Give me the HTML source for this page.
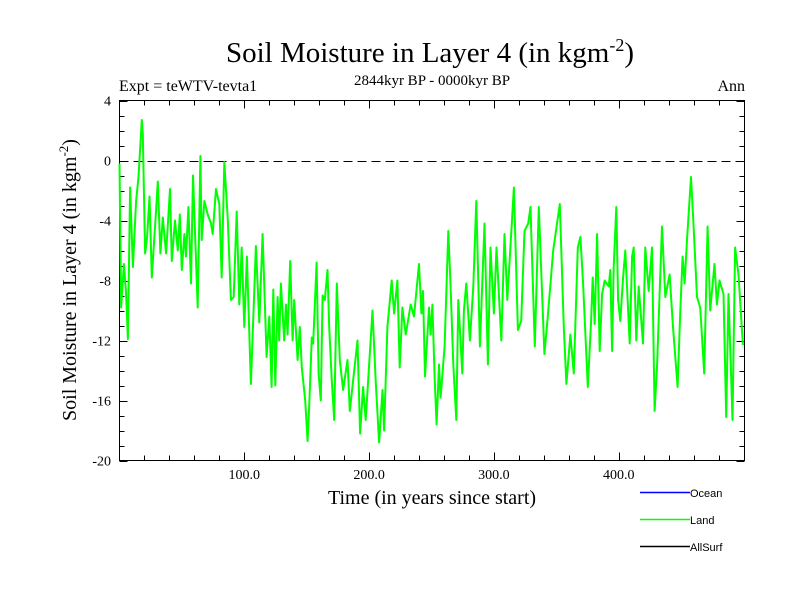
<!DOCTYPE html>
<html><head><meta charset="utf-8"><style>
body{margin:0;background:#fff}
svg{display:block;font-family:"Liberation Serif",serif}
</style></head><body>
<svg id="chart" width="800" height="600" viewBox="0 0 800 600">
<rect width="800" height="600" fill="#fff"/>
<text x="430" y="62" font-size="29" text-anchor="middle">Soil Moisture in Layer 4 (in kgm<tspan dy="-11" font-size="18">-2</tspan><tspan dy="11">)</tspan></text>
<text x="119" y="91" font-size="16">Expt = teWTV-tevta1</text>
<text x="432" y="85" font-size="15" text-anchor="middle">2844kyr BP - 0000kyr BP</text>
<text x="745" y="91" font-size="16" text-anchor="end">Ann</text>
<text transform="translate(76,280) rotate(-90)" font-size="20" text-anchor="middle">Soil Moisture in Layer 4 (in kgm<tspan dy="-8" font-size="13">-2</tspan><tspan dy="8">)</tspan></text>
<text x="432" y="504" font-size="20" text-anchor="middle">Time (in years since start)</text>
<g id="axes"></g>
<g id="series"></g>
<g font-family="Liberation Sans, sans-serif" font-size="11">
<line x1="640" y1="492.5" x2="690" y2="492.5" stroke="#0000ff" stroke-width="1.5"/>
<text x="690" y="497">Ocean</text>
<line x1="640" y1="519.5" x2="690" y2="519.5" stroke="#00ff00" stroke-width="1.5"/>
<text x="690" y="524">Land</text>
<line x1="640" y1="546.5" x2="690" y2="546.5" stroke="#000" stroke-width="1.5"/>
<text x="690" y="551">AllSurf</text>
</g>
</svg>
<script>
const years=[0,1.3,3.5,5.3,6.7,8.5,10.7,13.3,15.2,17.9,18.7,20.5,22.1,24,25.9,29.3,30.7,32.8,34.7,37.3,40.5,41.9,44.5,46.7,48.3,49.9,52,53.3,55.2,57.3,58.9,62.7,64.8,65.9,68,70.7,73.3,74.7,77.3,80,81.9,84,86.7,89.3,91.5,93.9,96,97.9,100,102.1,105.3,109.3,112,114.7,117.9,120,121.9,123.2,
124.8,126.7,128,129.3,132,133.3,134.7,136.8,138.7,140,142.7,144.5,146.1,148.8,150.7,152,154.1,155.2,157.9,159.5,161.3,162.7,164.5,166.7,168,170.1,172,174.1,176.5,179.2,182.7,184.5,190.7,192.8,195.2,197.3,202.7,205.3,208,210.7,212,214.7,218.1,220,222.7,224.5,226.7,229.3,233.3,236,240,241.9,243.2,244.8,
248,249.3,250.7,252.5,254.1,256,257.3,260.5,263.5,265.3,267.5,269.9,271.5,274.7,276,277.9,280.8,283.5,285.9,288.8,292.5,295.2,297.3,300,302.1,305.9,308.5,310.7,316,319.2,321.9,324.5,327.5,329.3,332.8,336,340.5,343.2,347.5,352.8,356,358.1,361.3,364,367.2,369.3,371.5,
375.2,377.9,379.2,380.8,382.7,384.8,386.7,388.8,392,393.3,394.7,396,398.1,399.5,401.3,403.5,405.3,408.8,410.7,412,414.1,416,419.5,421.3,424,426.7,428.8,430.7,434.7,437.3,440.8,443.5,447.2,449.3,451.2,452.8,454.7,457.9,460,462.7,465.3,468.5,471.2,473.3,476.8,478.7,480.8,484,486.1,488,491.2,493.3,496,499.5];
const landValues=[-0.2,-9.8,-6.9,-8.9,-11.9,-1.8,-7.1,-2.7,-1.1,2.7,1.8,-6.2,-5.1,-2.4,-7.8,-3.3,-1.4,-6.2,-3.8,-6.2,-1.9,-6.7,-4,-6,-3.6,-7.3,-4.9,-6.4,-3.1,-8.2,-1,-9.8,0.3,-5.3,-2.7,-3.6,-4.2,-4.9,-1.9,-2.9,-7.8,-0.1,-3.8,-9.3,-9.1,-3.4,-9.6,-5.8,-11.1,-6.4,-14.9,-5.7,-10.8,-4.9,-13.1,-10.4,-15.1,-8.6,
-15,-9.1,-12,-8.2,-12,-9.6,-11.6,-6.7,-12,-9.3,-13.3,-11.1,-13.8,-16,-18.7,-16.4,-11.8,-12.2,-6.8,-14.2,-16,-9,-9.3,-7.3,-11.1,-14.7,-17.3,-8.2,-13.3,-15.3,-13.3,-16.7,-12,-18.2,-15.1,-17.3,-10,-14.7,-18.8,-15.3,-18,-11.1,-8,-10.2,-8,-13.8,-9.8,-11.6,-9.6,-10.4,-6.9,-10.2,-8.7,-14.4,
-9.8,-11.6,-9.6,-14.4,-17.6,-13.6,-15.8,-12.4,-4.7,-8.4,-13.6,-17.3,-9.3,-14.2,-10,-8.2,-12,-8.4,-2.7,-12.4,-4.2,-13.6,-5.8,-10.2,-5.8,-12,-4.9,-9.3,-1.8,-11.3,-10.7,-4.7,-4.2,-3.1,-12.4,-3.1,-12.9,-10.4,-6,-2.9,-11.1,-14.9,-11.6,-14.2,-5.8,-5.1,-8.2,
-15.1,-10.7,-7.8,-10.9,-4.9,-12.7,-8.9,-8,-8.4,-7.3,-12.7,-7.1,-3.1,-9.3,-10.7,-7.8,-6,-12.2,-6.4,-5.8,-12,-8.4,-12.2,-5.8,-8.7,-5.8,-16.7,-13.8,-4.4,-9.1,-7.6,-11.1,-15.1,-10.2,-6.4,-8.2,-5.3,-1.1,-4.4,-9.1,-9.8,-14.2,-4.4,-10,-6.9,-9.6,-8,-8.9,-17.1,-8.9,-17.3,-5.8,-7.6,-12.3];
const yTicks=[4,0,-4,-8,-12,-16,-20];
const xTicks=[100,200,300,400];
const xTickLabels=["100.0","200.0","300.0","400.0"];

const NS="http://www.w3.org/2000/svg";
const L=119.5,R=744.5,T=100.5,B=460.5,X0=0,X1=500.8,Y0=-20,Y1=4;
function sx(v){return L+(v-X0)/(X1-X0)*(R-L);}
function sy(v){return B-(v-Y0)/(Y1-Y0)*(B-T);}
function mk(tag,attrs,parent){const e=document.createElementNS(NS,tag);for(const k in attrs)e.setAttribute(k,attrs[k]);parent.appendChild(e);return e;}
const ax=document.getElementById('axes');
const frame=mk('rect',{x:L,y:T,width:R-L,height:B-T,fill:'none',stroke:'#000','stroke-width':1},ax);


for(let v=Y0;v<=Y1;v+=1){const y=Math.round(sy(v))+0.5;const maj=(v%4===0);const len=maj?8:5;
 const t1=mk('line',{x1:L,y1:y,x2:L+len,y2:y,stroke:'#000'},ax);
 
 
 const t2=mk('line',{x1:R,y1:y,x2:R-len,y2:y,stroke:'#000'},ax);
 
 }
yTicks.forEach(v=>{const t=mk('text',{x:111,y:sy(v)+5,'font-size':14,'text-anchor':'end','font-family':'Liberation Serif, serif'},ax);t.textContent=String(v);
 
 });
for(let v=20;v<X1;v+=20){const x=Math.round(sx(v))+0.5;const maj=(v%100===0);const len=maj?8:5;
 const t1=mk('line',{x1:x,y1:B,x2:x,y2:B-len,stroke:'#000'},ax);
 
 
 const t2=mk('line',{x1:x,y1:T,x2:x,y2:T+len,stroke:'#000'},ax);
 
 }
xTicks.forEach((v,i)=>{const t=mk('text',{x:sx(v),y:479,'font-size':14,'text-anchor':'middle','font-family':'Liberation Serif, serif'},ax);t.textContent=xTickLabels[i];
 
 });
const zl=mk('line',{x1:L,y1:Math.round(sy(0))+0.5,x2:R,y2:Math.round(sy(0))+0.5,stroke:'#000','stroke-dasharray':'9,5'},ax);


const sg=document.getElementById('series');
const pts=years.map((x,i)=>sx(x).toFixed(1)+','+sy(landValues[i]).toFixed(1)).join(' ');
const pl=mk('polyline',{points:pts,fill:'none',stroke:'#00ff00','stroke-width':2,'stroke-linejoin':'round'},sg);


</script>
</body></html>
